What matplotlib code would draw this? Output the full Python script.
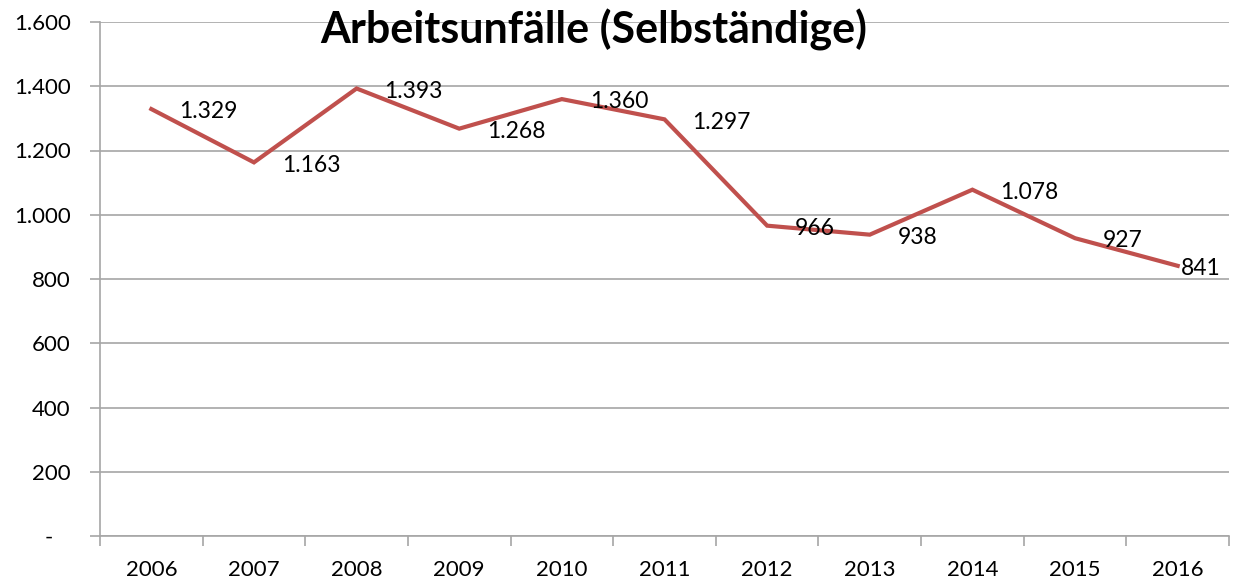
import matplotlib
matplotlib.use("Agg")
import matplotlib.pyplot as plt
from matplotlib.ticker import FuncFormatter, FixedLocator

years = ["2006", "2007", "2008", "2009", "2010", "2011", "2012", "2013", "2014", "2015", "2016"]
values = [1329, 1163, 1393, 1268, 1360, 1297, 966, 938, 1078, 927, 841]
title = "Arbeitsunfälle (Selbständige)"

plt.rcParams['font.family'] = ['Lato', 'DejaVu Sans']

fig = plt.figure(figsize=(12.34, 5.85), dpi=100)
ax = fig.add_axes([100/1234, 1-536/585, 1129/1234, (536-22)/585])

x = list(range(len(years)))
ax.plot(x, values, color="#C0504D", linewidth=3, solid_joinstyle="miter", zorder=3)

def fmt(v):
    return f"{v:,.0f}".replace(",", ".")

for i, v in enumerate(values):
    dx = 20 if i < len(values) - 1 else 2
    ax.annotate(fmt(v), (i, v), xytext=(dx, -2), textcoords="offset points",
                ha="left", va="center", fontsize=16.5, color="black", zorder=4)

ax.set_xlim(-0.5, len(years) - 0.5)
ax.set_ylim(0, 1600)
ax.set_yticks(range(0, 1601, 200))
ax.yaxis.set_major_formatter(FuncFormatter(lambda v, p: "-   " if v == 0 else fmt(v)))
ax.grid(axis="y", color="#a6a6a6", linewidth=1.2, zorder=0)
ax.tick_params(axis="y", length=7, width=1.2, color="#a6a6a6", pad=14, labelsize=16)

ax.set_xticks(x)
ax.set_xticklabels(years)
ax.xaxis.set_minor_locator(FixedLocator([i - 0.5 for i in range(len(years) + 1)]))
ax.tick_params(axis="x", which="major", length=0, pad=17, labelsize=16)
ax.tick_params(axis="x", which="minor", length=7, width=1.2, color="#a6a6a6")

for s in ["top", "right"]:
    ax.spines[s].set_visible(False)
for s in ["left", "bottom"]:
    ax.spines[s].set_color("#a6a6a6")
    ax.spines[s].set_linewidth(1.2)

fig.text(594/1234, 1-30/585, title, ha="center", va="center", fontsize=31, fontweight="bold")

fig.savefig("out.png", dpi=100)
